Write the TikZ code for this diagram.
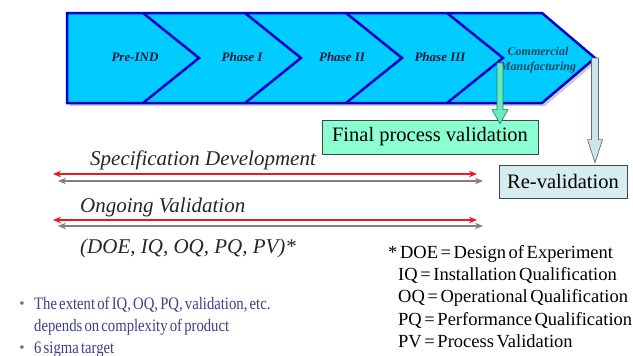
\documentclass[tikz,border=0pt]{standalone}
\usepackage{fontspec}
\setmainfont{Liberation Serif}
\newfontfamily\narrowserif{Liberation Serif}[FakeStretch=0.84]
\usetikzlibrary{arrows.meta,calc}

% narrow word spaces for the small print
\newcommand{\notespace}{\spaceskip=2.6pt\relax}
\newcommand{\bulspace}{\spaceskip=2.2pt\relax}

% hollow block arrow: style, from, to, half shaft, half head, head length
\newcommand{\blockarrow}[6]{%
  \draw[#1] let \p1=(#2), \p2=(#3) in
    (\x1-#4pt,\y1) -- (\x1-#4pt,\y2+#6pt) -- (\x1-#5pt,\y2+#6pt) -- (\x2,\y2)
    -- (\x1+#5pt,\y2+#6pt) -- (\x1+#4pt,\y2+#6pt) -- (\x1+#4pt,\y1) -- cycle;}

\begin{document}
\begin{tikzpicture}[x=1pt,y=-1pt,
  phase/.style={font=\fontsize{13}{13}\selectfont\bfseries\itshape,text=phasetxt},
  stagebox/.style={draw=boxline,line width=0.8pt,inner sep=0pt,
    font=\fontsize{20.5}{20.5}\selectfont},
  lbl/.style={font=\fontsize{21}{21}\selectfont\itshape,text=black!85,inner sep=0pt,anchor=base west},
  span/.style={line width=2.4pt,{Stealth[length=8pt,width=6.5pt]}-{Stealth[length=8pt,width=6.5pt]}},
  note/.style={font=\fontsize{18.5}{18.5}\selectfont\notespace,inner sep=0pt,anchor=base west},
  bul/.style={font=\fontsize{17.5}{17.5}\narrowserif\selectfont\bulspace,text=bultxt,inner sep=0pt,anchor=base west},
  dot/.style={font=\fontsize{15}{15}\selectfont,text=black!55,inner sep=0pt,anchor=base}]
% Colours
\definecolor{band}{RGB}{0,204,255}
\definecolor{bandline}{RGB}{0,0,205}
\definecolor{phasetxt}{RGB}{25,25,55}
\definecolor{commtxt}{RGB}{25,70,95}
\definecolor{boxline}{RGB}{60,70,70}
\definecolor{fpvfill}{RGB}{140,255,208}
\definecolor{revfill}{RGB}{213,236,240}
\definecolor{grnarrow}{RGB}{110,232,190}
\definecolor{grnline}{RGB}{0,140,110}
\definecolor{gryarrow}{RGB}{205,228,234}
\definecolor{gryline}{RGB}{95,115,115}
\definecolor{spanred}{RGB}{235,25,25}
\definecolor{spangray}{RGB}{128,128,128}
\definecolor{bultxt}{RGB}{62,62,140}

\useasboundingbox[fill=white] (0,0) rectangle (633,356);

% Development band with its phases
\fill[black!20] (70,16) -- (545,16) -- (598,61) -- (545,106) -- (70,106) -- cycle;
\draw[line width=2.5pt,draw=bandline,fill=band] (67,13) -- (542,13)
  -- (595,58) coordinate (tip) -- (542,103) -- (67,103) -- cycle;
\draw[line width=2.5pt,bandline] (143,13) -- (199,58) -- (143,103);
\draw[line width=2.5pt,bandline] (245,13) -- (301,58) -- (245,103);
\draw[line width=2.5pt,bandline] (346,13) -- (402,58) -- (346,103);
\draw[line width=2.5pt,bandline] (447,13) -- (503,58) -- (447,103);

\node[phase] (preind) at (135,57) {Pre-IND};
\node[phase] (ph1) at (242,57) {Phase I};
\node[phase] (ph2) at (342,57) {Phase II};
\node[phase] (ph3) at (440,57) {Phase III};
\node[phase,text=commtxt,align=center,font=\fontsize{12}{15}\selectfont\bfseries\itshape]
  (comm) at (538,60) {Commercial\\Manufacturing};

% Validation boxes and their arrows
\node[stagebox,fill=fpvfill,minimum width=216pt,minimum height=34pt] (fpv) at (430,137)
  {Final process validation};
\node[stagebox,fill=revfill,minimum width=128pt,minimum height=33pt] (reval) at (563,181.5)
  {Re-validation};
\coordinate (valsrc) at (500,63);
\blockarrow{fill=grnarrow,draw=grnline,line width=0.7pt}{valsrc}{$(valsrc |- fpv.north)+(0,4)$}{3}{8}{14}
\blockarrow{fill=gryarrow,draw=gryline,line width=0.7pt}{tip}{$(tip |- reval.north)+(0,-2)$}{3.5}{7.5}{23}

% Time spans
\coordinate (specL) at (53,174);  \coordinate (specR) at (477,174);
\coordinate (specL2) at (58,181); \coordinate (specR2) at (483,181);
\coordinate (ongoL) at (53,220);  \coordinate (ongoR) at (477,220);
\coordinate (ongoL2) at (58,226); \coordinate (ongoR2) at (483,226);
\draw[span,spangray] (specL2) -- (specR2);
\draw[span,spanred] (specL) -- (specR);
\draw[span,spangray] (ongoL2) -- (ongoR2);
\draw[span,spanred] (ongoL) -- (ongoR);

\node[lbl] (spec) at (90,165) {Specification Development};
\node[lbl] (ongo) at (80,212) {Ongoing Validation};
\node[lbl] (abbr) at (80,253) {(DOE, IQ, OQ, PQ, PV)*};

% Abbreviations
\node[note] (doe) at (388,258) {* DOE = Design of Experiment};
\node[note] (iq) at (398,280) {IQ = Installation Qualification};
\node[note] (oq) at (398,302) {OQ = Operational Qualification};
\node[note] (pq) at (398,325) {PQ = Performance Qualification};
\node[note] (pv) at (398,347) {PV = Process Validation};

% Remarks
\node[dot] (b1) at (22,308) {\textbullet};
\node[bul] (extent) at (34,309) {The extent of IQ, OQ, PQ, validation, etc.};
\node[bul] (extent2) at (34,331) {depends on complexity of product};
\node[dot] (b2) at (22,352) {\textbullet};
\node[bul] (sigma) at (34,353) {6 sigma target};
\end{tikzpicture}
\end{document}
